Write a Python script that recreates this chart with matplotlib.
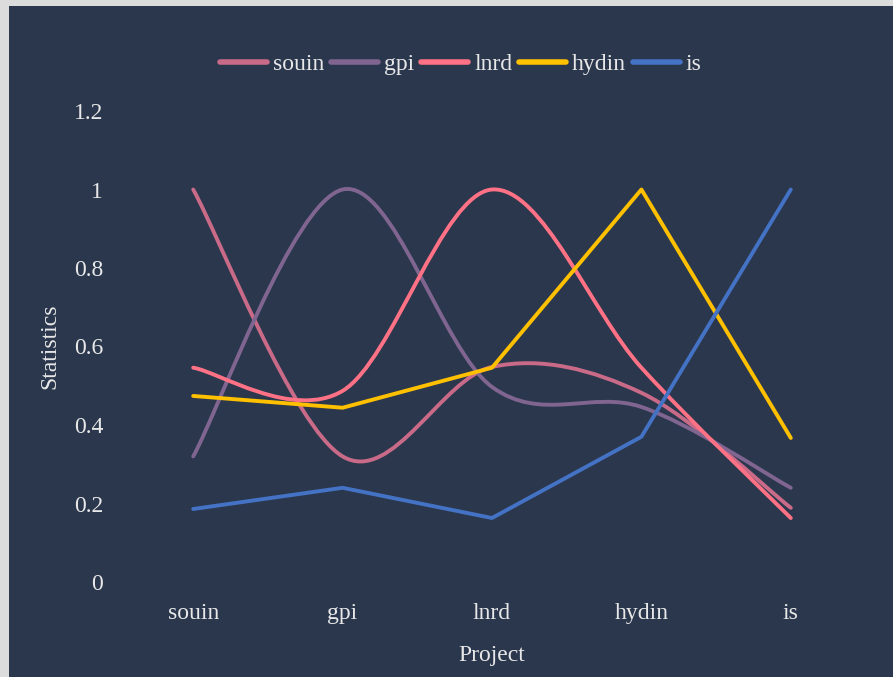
import matplotlib.pyplot as plt
import numpy as np
from matplotlib.path import Path
from matplotlib.patches import PathPatch, Rectangle
from matplotlib.lines import Line2D

plt.rcParams['font.family'] = ['Liberation Serif', 'DejaVu Serif']

categories = ['souin', 'gpi', 'lnrd', 'hydin', 'is']
souin = [1.0, 0.32, 0.548, 0.482, 0.189]
gpi = [0.32, 1.0, 0.497, 0.446, 0.24]
lnrd = [0.546, 0.487, 1.0, 0.546, 0.163]
hydin = [0.474, 0.444, 0.546, 1.0, 0.367]
is_ = [0.186, 0.24, 0.163, 0.37, 1.0]

series = [
    ('souin', souin, '#c96b88', True),
    ('gpi', gpi, '#7f6590', True),
    ('lnrd', lnrd, '#ff7286', True),
    ('hydin', hydin, '#ffc000', False),
    ('is', is_, '#4472c4', False),
]

BG = '#2a374d'
TXT = '#e8e8e8'
FS = 17


def smooth_path(xs, ys):
    # Catmull-Rom style cubic bezier through the points
    pts = np.column_stack([np.asarray(xs, float), np.asarray(ys, float)])
    ext = np.vstack([pts[:1], pts, pts[-1:]])
    verts = [pts[0]]
    codes = [Path.MOVETO]
    for i in range(len(pts) - 1):
        c1 = ext[i + 1] + (ext[i + 2] - ext[i]) / 6
        c2 = ext[i + 2] - (ext[i + 3] - ext[i + 1]) / 6
        verts += [c1, c2, pts[i + 1]]
        codes += [Path.CURVE4] * 3
    return Path(np.array(verts), codes)


fig = plt.figure(figsize=(8.93, 6.77), dpi=100, facecolor='#dcdcdc')
fig.patches.append(Rectangle((9 / 893, 0), 1, 671 / 677, transform=fig.transFigure,
                             facecolor=BG, edgecolor='none', zorder=-5))

ax = fig.add_axes([118.5 / 893, 95 / 677, 747 / 893, 471 / 677])
ax.patch.set_alpha(0)
x = np.arange(len(categories))
ax.set_xlim(-0.5, len(categories) - 0.5)
ax.set_ylim(0, 1.2)

handles = []
for name, vals, color, smooth in series:
    if smooth:
        ax.add_patch(PathPatch(smooth_path(x, vals), facecolor='none', edgecolor=color,
                               lw=2.8, capstyle='round', joinstyle='round'))
    else:
        ax.plot(x, vals, color=color, lw=2.8, solid_capstyle='round')
    handles.append(Line2D([0], [0], color=color, lw=4, solid_capstyle='round'))

for s in ax.spines.values():
    s.set_visible(False)
ax.set_xticks(x)
ax.set_xticklabels(categories)
ax.set_yticks([0, 0.2, 0.4, 0.6, 0.8, 1.0, 1.2])
ax.set_yticklabels(['0', '0.2', '0.4', '0.6', '0.8', '1', '1.2'])
ax.tick_params(length=0, colors=TXT, labelsize=FS)
ax.tick_params(axis='x', pad=15)
ax.tick_params(axis='y', pad=11)
ax.set_xlabel('Project', color=TXT, fontsize=FS, labelpad=15)
ax.set_ylabel('Statistics', color=TXT, fontsize=FS, labelpad=10)

leg = fig.legend(handles, [s[0] for s in series], loc='center', ncol=5,
                 bbox_to_anchor=(461 / 893, 1 - 64 / 677), frameon=False,
                 fontsize=FS, handlelength=2.0, handletextpad=0.25, columnspacing=0.28,
                 labelcolor=TXT)

fig.savefig('out.png', dpi=100, facecolor=fig.get_facecolor())
